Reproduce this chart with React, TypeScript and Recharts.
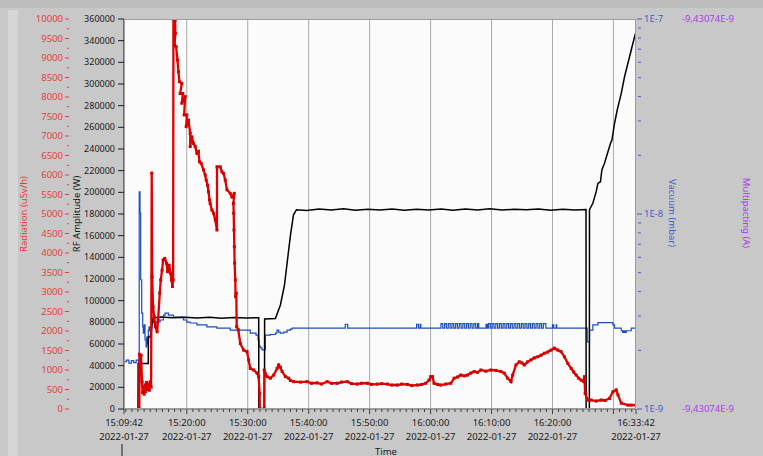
import { ComposedChart, Line, XAxis, YAxis, CartesianGrid, ReferenceLine } from 'recharts';

const W = 763;
const H = 456;
const FONT = '"Noto Sans", "Open Sans", sans-serif';

const RED = '#e00000';
const RED_TEXT = '#e2403c';
const BLUE = '#1a4cc2';
const BLUE_TEXT = '#3f5fc8';
const PURPLE_TEXT = '#a83ce6';
const TEAL = '#2a9a9a';

// axis ids sort in the order the axes stack outward from the plot
const RF_AXIS = 'y1Rf';
const RAD_AXIS = 'y2Radiation';
const VAC_AXIS = 'y3Vacuum';
const MP_AXIS = 'y4Multipacting';

// time axis runs in minutes after 15:09:42
const majorTimes = [0, 10.3, 20.3, 30.3, 40.3, 50.3, 60.3, 70.3, 80.3, 84];
const timeLabels = ['15:09:42', '15:20:00', '15:30:00', '15:40:00', '15:50:00', '16:00:00', '16:10:00', '16:20:00', '', '16:33:42'];
const dateLabels = ['2022-01-27', '2022-01-27', '2022-01-27', '2022-01-27', '2022-01-27', '2022-01-27', '2022-01-27', '2022-01-27', '', '2022-01-27'];
const gridTimes = [10.3, 20.3, 30.3, 40.3, 50.3, 60.3, 70.3, 80.3];

const rfTicks = [0, 20000, 40000, 60000, 80000, 100000, 120000, 140000, 160000, 180000, 200000, 220000, 240000, 260000, 280000, 300000, 320000, 340000, 360000];
const vacuumTicks = [1e-9, 2e-9, 3e-9, 4e-9, 5e-9, 6e-9, 7e-9, 8e-9, 9e-9, 1e-8, 2e-8, 3e-8, 4e-8, 5e-8, 6e-8, 7e-8, 8e-8, 9e-8, 1e-7];
const vacuumLabels = ['1E-9', '', '', '', '', '', '', '', '', '1E-8', '', '', '', '', '', '', '', '', '1E-7'];
const multipactingLevel = -9.43074e-9;
const multipactingTicks = [multipactingLevel, multipactingLevel + 1e-9];
const multipactingLabels = ['-9,43074E-9', '-9,43074E-9'];

// RF amplitude [min, W]
const rfAmplitude = [
  [0, 0], [2.3, 0], [2.32, 42000], [3.98, 42000], [4.0, 66500], [4.3, 66500], [4.6, 78000], [4.77, 84000],
  [6, 85000], [8, 84200], [10, 84800], [12, 84000], [14, 84600], [16, 83800], [18, 84400], [20, 84000],
  [22.1, 84200], [22.12, 0], [23.05, 0], [23.07, 83000], [24.84, 83500], [25.66, 96000], [26.32, 114000],
  [26.81, 137000], [27.3, 160000], [27.8, 179000], [28.29, 184000], [30, 183200], [32, 184600], [34, 183600],
  [36, 184800], [38, 183400], [40, 184400], [42, 183700], [44, 184700], [46, 183500], [48, 184300],
  [50, 183800], [52, 184600], [54, 183400], [56, 184500], [58, 183700], [60, 184800], [62, 183600],
  [64, 184400], [66, 183900], [68, 184600], [70, 183500], [72, 184300], [74, 183800], [75.8, 184200],
  [75.82, 0], [76.35, 0], [76.37, 184000], [76.92, 189900], [77.47, 200600], [77.75, 208300],
  [78.17, 209800], [78.4, 220600], [78.83, 226800], [79.82, 245200], [80.05, 248300], [80.48, 263700],
  [80.92, 276000], [81.58, 291400], [82.12, 306700], [83.22, 331400], [83.77, 343600], [84, 348300],
];

// radiation [min, uSv/h]
const radiation = [
  [2.52, 0], [2.55, 1400], [2.8, 1380], [2.96, 700], [3.05, 420], [3.2, 560], [3.3, 380], [3.45, 620],
  [3.55, 450], [3.7, 680], [3.85, 500], [4.0, 640], [4.15, 480], [4.3, 700], [4.45, 560], [4.55, 6050],
  [4.62, 3390], [4.77, 2620], [4.94, 2370], [5.16, 2110], [5.43, 1980], [5.59, 2280], [5.87, 2970],
  [6.03, 3310], [6.25, 3560], [6.42, 3820], [6.69, 3860], [6.97, 3740], [7.14, 3520], [7.4, 3690],
  [7.63, 3480], [7.79, 3310], [7.95, 3140], [8.06, 3310], [8.11, 10000], [8.39, 9970], [8.42, 9630],
  [8.3, 9330], [8.55, 9290], [8.77, 8950], [8.93, 8650], [9.1, 8390], [9.49, 8350], [9.21, 8090],
  [9.65, 8090], [9.49, 7840], [10.03, 8010], [9.87, 7540], [10.31, 7540], [10.2, 7240], [10.58, 7410],
  [10.86, 7070], [10.86, 6730], [11.13, 6980], [11.4, 6810], [11.68, 6730], [11.96, 6560], [12.22, 6600],
  [12.38, 6340], [12.66, 6300], [13.04, 6130], [13.32, 6000], [13.49, 5870], [13.7, 5740], [13.87, 5570],
  [14.03, 5360], [14.14, 5270], [14.42, 5100], [14.69, 5020], [14.97, 4850], [15.25, 4590], [15.26, 6210],
  [15.79, 6210], [16.07, 6080], [16.33, 6040], [16.61, 5870], [16.89, 5620], [17.43, 5530], [17.71, 5440],
  [18.09, 5530], [17.95, 5270], [18.0, 5020], [18.05, 4590], [18.1, 4160], [18.15, 3740], [18.26, 3310],
  [18.3, 2880], [18.42, 2970], [18.49, 2110], [18.75, 2030], [19.08, 1680], [19.62, 1510], [20.18, 1470],
  [20.44, 1260], [20.72, 1040], [21.27, 1000], [21.82, 920], [22.09, 830], [22.25, 400], [22.28, 0],
  [23.0, 0], [23.02, 1000], [23.47, 830], [24.01, 790], [24.56, 870], [25.12, 1040], [25.38, 1130],
  [25.66, 1070], [25.94, 960], [26.48, 830], [27.02, 790], [27.3, 730], [27.85, 700], [28.95, 690],
  [30.05, 700], [30.76, 660], [31.69, 670], [32.4, 640], [33.34, 700], [34.05, 660], [34.98, 660],
  [35.69, 690], [36.63, 700], [37.34, 650], [38.27, 640], [38.98, 660], [39.92, 660], [40.63, 630],
  [41.56, 640], [42.27, 650], [43.21, 640], [43.91, 615], [44.85, 615], [45.56, 640], [46.5, 630],
  [47.2, 600], [48.14, 615], [48.85, 630], [49.51, 660], [50.05, 740], [50.33, 830], [50.61, 830],
  [50.87, 660], [51.43, 630], [51.97, 615], [52.8, 640], [53.62, 660], [54.16, 790], [54.72, 820],
  [55.26, 870], [55.81, 850], [56.36, 870], [56.91, 920], [57.45, 960], [58.01, 940], [58.55, 1000],
  [59.38, 970], [60.2, 1000], [61.02, 990], [61.84, 960], [62.38, 920], [62.94, 790], [63.49, 700],
  [63.77, 870], [64.31, 1130], [64.85, 1210], [65.3, 1180], [65.67, 1130], [66.23, 1210], [66.78, 1260],
  [67.32, 1310], [67.88, 1340], [68.42, 1380], [68.96, 1430], [69.52, 1460], [70.07, 1510], [70.61, 1560],
  [71.17, 1510], [71.71, 1470], [72.25, 1340], [72.81, 1170], [73.36, 1040], [73.77, 950], [74.18, 870],
  [74.59, 790], [75.0, 740], [75.44, 700], [75.54, 830], [75.66, 400], [76.1, 230], [76.64, 230],
  [77.47, 205], [78.29, 230], [78.95, 220], [79.65, 270], [80.21, 440], [80.76, 490], [81.04, 360],
  [81.58, 150], [82.68, 100], [83.22, 100], [84, 100],
];

// vacuum [min, mbar]
const vacuum = [
  [0, 1.75e-9], [0.4, 1.78e-9], [0.8, 1.72e-9], [1.2, 1.77e-9], [1.6, 1.73e-9], [2.0, 1.78e-9],
  [2.4, 1.74e-9], [2.5, 1.3e-8], [2.63, 1.01e-8], [2.74, 4.6e-9], [2.9, 3.1e-9], [3.07, 2.64e-9],
  [3.17, 2.45e-9], [3.3, 2.7e-9], [3.45, 2.26e-9], [3.62, 2.08e-9], [3.73, 2.34e-9], [3.85, 2.15e-9],
  [3.99, 2.54e-9], [4.11, 2.64e-9], [4.3, 2.5e-9], [4.55, 2.86e-9], [4.83, 2.76e-9], [5.38, 2.8e-9],
  [5.92, 2.86e-9], [6.47, 3.03e-9], [6.74, 3.1e-9], [7.29, 3.03e-9], [8.11, 2.96e-9], [8.93, 2.96e-9],
  [9.76, 2.86e-9], [10.31, 2.79e-9], [10.86, 2.76e-9], [11.96, 2.7e-9], [13.05, 2.7e-9], [13.6, 2.64e-9],
  [14.69, 2.64e-9], [15.24, 2.6e-9], [16.34, 2.6e-9], [17.43, 2.54e-9], [19.08, 2.54e-9], [20.72, 2.45e-9],
  [21.66, 2.39e-9], [22.0, 2.26e-9], [22.15, 2.1e-9], [22.37, 2.06e-9], [22.64, 2.01e-9], [22.92, 2.01e-9],
  [23.19, 2.39e-9], [24.01, 2.41e-9], [24.84, 2.45e-9], [25.1, 2.54e-9], [25.38, 2.48e-9], [25.66, 2.45e-9],
  [26.2, 2.48e-9], [26.75, 2.54e-9], [27.3, 2.57e-9], [27.58, 2.6e-9], [36.2, 2.6e-9], [36.3, 2.72e-9],
  [36.6, 2.72e-9], [36.7, 2.6e-9], [47.9, 2.6e-9], [48.0, 2.72e-9], [48.3, 2.6e-9], [48.6, 2.72e-9],
  [48.7, 2.6e-9], [51.0, 2.6e-9],
  [52.0, 2.74e-9], [52.3, 2.6e-9], [52.6, 2.74e-9], [52.9, 2.6e-9], [53.2, 2.74e-9], [53.5, 2.6e-9],
  [53.8, 2.74e-9], [54.1, 2.6e-9], [54.4, 2.74e-9], [54.7, 2.6e-9], [55.0, 2.74e-9], [55.3, 2.6e-9],
  [55.6, 2.74e-9], [55.9, 2.6e-9], [56.2, 2.74e-9], [56.5, 2.6e-9], [56.8, 2.74e-9], [57.1, 2.6e-9],
  [57.4, 2.74e-9], [57.7, 2.6e-9], [58.0, 2.74e-9], [58.2, 2.6e-9], [59.3, 2.6e-9], [59.4, 2.72e-9],
  [59.6, 2.6e-9],
  [59.8, 2.74e-9], [60.1, 2.6e-9], [60.4, 2.74e-9], [60.7, 2.6e-9], [61.0, 2.74e-9], [61.3, 2.6e-9],
  [61.6, 2.74e-9], [61.9, 2.6e-9], [62.2, 2.74e-9], [62.5, 2.6e-9], [62.8, 2.74e-9], [63.1, 2.6e-9],
  [63.4, 2.74e-9], [63.7, 2.6e-9], [64.0, 2.74e-9], [64.3, 2.6e-9], [64.6, 2.74e-9], [64.9, 2.6e-9],
  [65.2, 2.74e-9], [65.5, 2.6e-9], [65.8, 2.74e-9], [66.1, 2.6e-9], [66.4, 2.74e-9], [66.7, 2.6e-9],
  [67.0, 2.74e-9], [67.3, 2.6e-9], [67.6, 2.74e-9], [67.9, 2.6e-9], [68.2, 2.74e-9], [68.5, 2.6e-9],
  [68.8, 2.74e-9], [69.2, 2.6e-9],
  [70.2, 2.6e-9], [70.3, 2.7e-9], [70.5, 2.6e-9], [70.9, 2.7e-9], [71.0, 2.6e-9], [75.8, 2.6e-9],
  [76.0, 2.21e-9], [76.37, 2.54e-9], [76.92, 2.7e-9], [77.75, 2.77e-9], [79.39, 2.77e-9], [80.21, 2.7e-9],
  [80.48, 2.6e-9], [81.58, 2.52e-9], [81.8, 2.47e-9], [82.0, 2.52e-9], [82.2, 2.47e-9], [82.4, 2.52e-9],
  [82.68, 2.52e-9], [83.22, 2.6e-9], [84, 2.6e-9],
];

// multipacting current [min, A]
const multipacting = [[0, multipactingLevel], [84, multipactingLevel]];

const toPoints = (rows: number[][]) => rows.map(([t, v]) => ({ t, v }));

// minute ticks from 15:10:00 plus both ends of the record
const xTicks = [0, ...Array.from({ length: 84 }, (_, k) => 0.3 + k), 84];
const radiationTicks = Array.from({ length: 41 }, (_, k) => k * 250);

const textStyle = { fontFamily: FONT, fontSize: 9.5 };

function TimeTick({ x, y, payload }: any) {
  const i = majorTimes.findIndex((m) => Math.abs(m - payload.value) < 0.01);
  const major = i >= 0;
  return (
    <g>
      <line x1={x} x2={x} y1={y} y2={y + (major ? 5 : 3)} stroke="#404040" />
      {major && (
        <g style={textStyle} fill="#1a1a1a" textAnchor="middle">
          <text x={x} y={y + 17}>{timeLabels[i]}</text>
          <text x={x} y={y + 31}>{dateLabels[i]}</text>
        </g>
      )}
    </g>
  );
}

function RfTick({ x, y, payload }: any) {
  return (
    <g>
      <line x1={x - 6} x2={x} y1={y} y2={y} stroke="#1a1a1a" />
      <text x={x - 9} y={y} dy="0.35em" textAnchor="end" fill="#1a1a1a" style={{ fontFamily: FONT, fontSize: 9 }}>
        {payload.value}
      </text>
    </g>
  );
}

function RadiationTick({ x, y, payload }: any) {
  const major = payload.value % 500 === 0;
  return (
    <g>
      <line x1={x - (major ? 5 : 3)} x2={x - 1} y1={y} y2={y} stroke={RED_TEXT} />
      {major && (
        <text x={x - 7} y={y} dy="0.35em" textAnchor="end" fill={RED_TEXT} style={textStyle}>
          {payload.value}
        </text>
      )}
    </g>
  );
}

function VacuumTick({ x, y, index }: any) {
  const label = vacuumLabels[index];
  return (
    <g>
      <line x1={x + (label ? 1 : 2)} x2={x + (label ? 6 : 5)} y1={y} y2={y} stroke={BLUE_TEXT} />
      {label && (
        <text x={x + 8} y={y} dy="0.35em" fill={BLUE_TEXT} style={textStyle}>
          {label}
        </text>
      )}
    </g>
  );
}

function MultipactingTick({ x, y, index }: any) {
  return (
    <text x={x} y={y} dy="0.35em" fill={PURPLE_TEXT} style={textStyle}>
      {multipactingLabels[index]}
    </text>
  );
}

const squareDot = (props: any) => {
  const { cx, cy, index } = props;
  return <rect key={`rad-${index}`} x={cx - 1.5} y={cy - 1.5} width={3} height={3} fill="#d40000" />;
};

export default function App() {
  return (
    <div style={{ position: 'absolute', left: 0, top: 0, width: W, height: H, background: '#c8c8c8', overflow: 'hidden' }}>
      <div style={{ position: 'absolute', left: 0, top: 0, width: W, height: 8, background: '#bdbdbd' }} />
      <div style={{ position: 'absolute', left: 8, top: 10, width: 10, height: H - 10, background: '#d6d6d6' }} />
      <ComposedChart width={W} height={H} margin={{ top: 19, right: 0, bottom: 0, left: 0 }} style={{ position: 'absolute', left: 0, top: 0 }}>
        <CartesianGrid yAxisId={RF_AXIS} horizontal={false} vertical={false} fill="#fbfbfb" />
        <XAxis
          dataKey="t"
          type="number"
          domain={[0, 84]}
          ticks={xTicks}
          interval={0}
          height={47}
          tickSize={0}
          tickMargin={0}
          tickLine={false}
          axisLine={{ stroke: '#6a6a6a' }}
          tick={(p: any) => <TimeTick {...p} />}
          allowDataOverflow
        />
        <YAxis
          yAxisId={RF_AXIS}
          orientation="left"
          width={54}
          type="number"
          domain={[0, 360000]}
          ticks={rfTicks}
          interval={0}
          tickSize={0}
          tickMargin={0}
          tickLine={false}
          axisLine={{ stroke: '#1a1a1a' }}
          tick={(p: any) => <RfTick {...p} />}
          allowDataOverflow
        />
        <YAxis
          yAxisId={RAD_AXIS}
          orientation="left"
          width={70}
          type="number"
          domain={[0, 10000]}
          ticks={radiationTicks}
          interval={0}
          tickSize={0}
          tickMargin={0}
          tickLine={false}
          axisLine={false}
          tick={(p: any) => <RadiationTick {...p} />}
          allowDataOverflow
        />
        <YAxis
          yAxisId={VAC_AXIS}
          orientation="right"
          width={46}
          type="number"
          scale="log"
          domain={[1e-9, 1e-7]}
          ticks={vacuumTicks}
          interval={0}
          tickSize={0}
          tickMargin={0}
          tickLine={false}
          axisLine={false}
          tick={(p: any) => <VacuumTick {...p} />}
          allowDataOverflow
        />
        <YAxis
          yAxisId={MP_AXIS}
          orientation="right"
          width={81}
          type="number"
          domain={[multipactingTicks[0], multipactingTicks[1]]}
          ticks={multipactingTicks}
          interval={0}
          tickSize={0}
          tickMargin={0}
          tickLine={false}
          axisLine={false}
          tick={(p: any) => <MultipactingTick {...p} />}
          allowDataOverflow
        />
        {gridTimes.map((t) => (
          <ReferenceLine key={t} x={t} yAxisId={RF_AXIS} stroke="#a8a8a8" strokeWidth={1} />
        ))}
        <Line
          data={toPoints(multipacting)}
          dataKey="v"
          yAxisId={MP_AXIS}
          type="linear"
          stroke={TEAL}
          strokeWidth={2}
          dot={false}
          isAnimationActive={false}
        />
        <Line
          data={toPoints(vacuum)}
          dataKey="v"
          yAxisId={VAC_AXIS}
          type="stepAfter"
          stroke={BLUE}
          strokeWidth={1.2}
          dot={false}
          isAnimationActive={false}
        />
        <Line
          data={toPoints(rfAmplitude)}
          dataKey="v"
          yAxisId={RF_AXIS}
          type="linear"
          stroke="#000000"
          strokeWidth={1.5}
          dot={false}
          isAnimationActive={false}
        />
        <Line
          data={toPoints(radiation)}
          dataKey="v"
          yAxisId={RAD_AXIS}
          type="linear"
          stroke={RED}
          strokeWidth={2.3}
          dot={squareDot}
          isAnimationActive={false}
        />
      </ComposedChart>
      <svg width={W} height={H} style={{ position: 'absolute', left: 0, top: 0, pointerEvents: 'none' }}>
        <rect x={124.5} y={19.5} width={511} height={389} fill="none" stroke="#9c9c9c" />
        <g style={{ fontFamily: FONT, fontSize: 9.5 }} textAnchor="middle" dominantBaseline="central">
          <text transform="translate(23,214) rotate(-90)" fill={RED_TEXT}>Radiation (uSv/h)</text>
          <text transform="translate(76,214) rotate(-90)" fill="#1a1a1a">RF Amplitude (W)</text>
          <text transform="translate(672,213) rotate(90)" fill={BLUE_TEXT}>Vacuum (mbar)</text>
          <text transform="translate(746,213) rotate(90)" fill={PURPLE_TEXT}>Multipacting (A)</text>
          <text x={386} y={451} fill="#1a1a1a">Time</text>
        </g>
        <line x1={122} x2={122} y1={444} y2={456} stroke="#1a1a1a" />
      </svg>
    </div>
  );
}
